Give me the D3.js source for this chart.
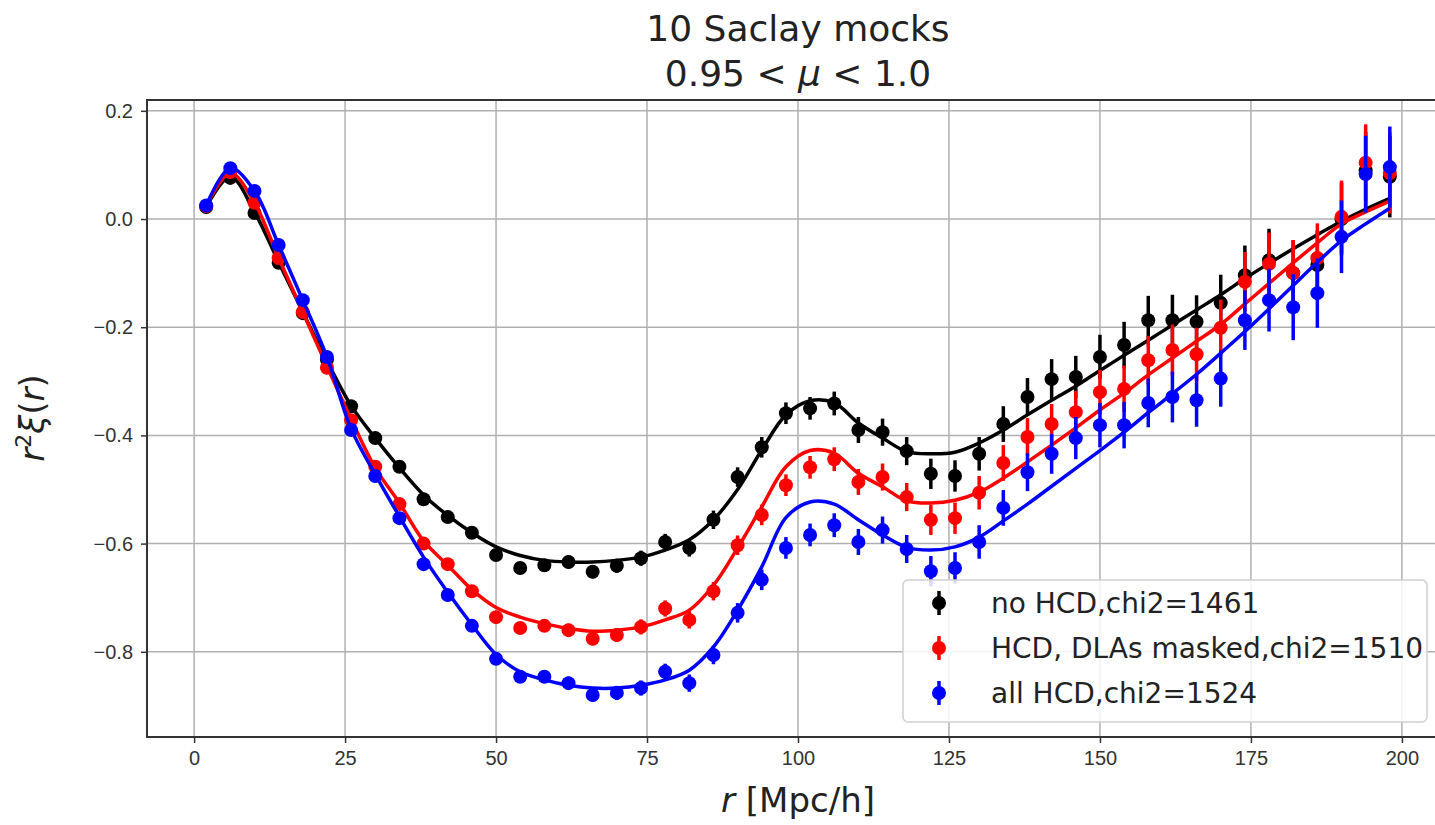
<!DOCTYPE html>
<html lang="en">
<head>
<meta charset="UTF-8">
<title>10 Saclay mocks</title>
<style>
  body { margin: 0; background: #fff; }
  svg { font-family: "DejaVu Sans", sans-serif; display: block; }
  .grid line { stroke: #b0b0b0; stroke-width: 1.5; }
  .axis text { font-size: 20px; fill: #333; }
  .axis line { stroke: #333; stroke-width: 1.5; }
  .axis path { display: none; }
</style>
</head>
<body>
<script src="https://d3js.org/d3.v7.min.js"></script>
<script>
// separations r [Mpc/h]
const rVals = [2,6,10,14,18,22,26,30,34,38,42,46,50,54,58,62,66,70,74,78,82,86,90,94,98,102,106,110,114,118,122,126,130,134,138,142,146,150,154,158,162,166,170,174,178,182,186,190,194,198];

// measured r^2 xi(r)
const noHcd = [0.022,0.076,0.011,-0.081,-0.174,-0.260,-0.346,-0.405,-0.458,-0.518,-0.551,-0.580,-0.621,-0.645,-0.640,-0.634,-0.652,-0.641,-0.627,-0.597,-0.608,-0.556,-0.477,-0.422,-0.359,-0.350,-0.341,-0.390,-0.394,-0.429,-0.471,-0.475,-0.434,-0.379,-0.329,-0.296,-0.292,-0.255,-0.233,-0.187,-0.187,-0.190,-0.155,-0.104,-0.076,-0.100,-0.085,0.000,0.090,0.078];
const dlaMasked = [0.024,0.087,0.030,-0.072,-0.172,-0.275,-0.372,-0.458,-0.527,-0.600,-0.638,-0.688,-0.736,-0.756,-0.752,-0.760,-0.776,-0.769,-0.754,-0.720,-0.741,-0.688,-0.603,-0.547,-0.492,-0.459,-0.444,-0.486,-0.477,-0.514,-0.556,-0.553,-0.506,-0.451,-0.403,-0.379,-0.357,-0.320,-0.314,-0.261,-0.242,-0.250,-0.201,-0.116,-0.083,-0.100,-0.072,0.004,0.104,0.085];
const allHcd = [0.025,0.094,0.052,-0.048,-0.150,-0.255,-0.390,-0.475,-0.553,-0.638,-0.695,-0.752,-0.813,-0.846,-0.846,-0.858,-0.880,-0.876,-0.867,-0.837,-0.858,-0.806,-0.728,-0.667,-0.608,-0.584,-0.566,-0.597,-0.575,-0.610,-0.651,-0.645,-0.597,-0.534,-0.468,-0.434,-0.405,-0.381,-0.381,-0.340,-0.329,-0.335,-0.295,-0.187,-0.150,-0.163,-0.137,-0.033,0.083,0.096];

// error bars (same size for all three)
const errBars = [0.004,0.004,0.004,0.005,0.005,0.006,0.007,0.008,0.008,0.009,0.009,0.010,0.010,0.011,0.011,0.012,0.012,0.013,0.014,0.015,0.016,0.017,0.018,0.019,0.020,0.021,0.022,0.024,0.025,0.026,0.028,0.029,0.031,0.033,0.035,0.037,0.039,0.041,0.043,0.045,0.047,0.049,0.052,0.055,0.058,0.061,0.064,0.067,0.071,0.075];

// best-fit models
const modelNoHcd = [0.022,0.078,0.013,-0.080,-0.172,-0.262,-0.345,-0.405,-0.460,-0.510,-0.548,-0.580,-0.606,-0.622,-0.631,-0.634,-0.634,-0.631,-0.625,-0.612,-0.593,-0.556,-0.500,-0.427,-0.362,-0.336,-0.340,-0.377,-0.405,-0.430,-0.434,-0.431,-0.414,-0.390,-0.362,-0.335,-0.309,-0.280,-0.252,-0.224,-0.196,-0.168,-0.140,-0.110,-0.082,-0.055,-0.029,-0.004,0.018,0.038];
const modelDla = [0.024,0.085,0.030,-0.072,-0.172,-0.272,-0.370,-0.460,-0.525,-0.595,-0.640,-0.685,-0.718,-0.736,-0.748,-0.757,-0.762,-0.760,-0.754,-0.741,-0.723,-0.677,-0.608,-0.532,-0.458,-0.428,-0.433,-0.470,-0.495,-0.521,-0.525,-0.520,-0.505,-0.479,-0.449,-0.418,-0.386,-0.353,-0.322,-0.288,-0.257,-0.226,-0.195,-0.157,-0.119,-0.081,-0.044,-0.009,0.013,0.033];
const modelAll = [0.025,0.094,0.052,-0.048,-0.150,-0.255,-0.388,-0.472,-0.550,-0.625,-0.690,-0.750,-0.805,-0.837,-0.852,-0.862,-0.867,-0.867,-0.862,-0.852,-0.834,-0.791,-0.723,-0.643,-0.552,-0.523,-0.527,-0.556,-0.584,-0.607,-0.612,-0.606,-0.588,-0.558,-0.527,-0.494,-0.461,-0.428,-0.394,-0.358,-0.323,-0.287,-0.248,-0.208,-0.166,-0.123,-0.080,-0.040,-0.009,0.020];

const legendLabels = ["no HCD,chi2=1461", "HCD, DLAs masked,chi2=1510", "all HCD,chi2=1524"];
const seriesColors = ["#000000", "#ff0000", "#0000ff"];
const xTicks = [0, 25, 50, 75, 100, 125, 150, 175, 200];
const yTicks = [-0.8, -0.6, -0.4, -0.2, 0.0, 0.2];

const series = [
  { pts: noHcd, model: modelNoHcd },
  { pts: dlaMasked, model: modelDla },
  { pts: allHcd, model: modelAll }
];

const W = 1435, H = 825;
const plot = { left: 147, top: 100, right: 1449, bottom: 737 };

const svg = d3.select("body").append("svg")
  .attr("width", W)
  .attr("height", H);

svg.append("rect").attr("width", W).attr("height", H).attr("fill", "#fff");

const x = d3.scaleLinear().domain([-7.8, 207.8]).range([plot.left, plot.right]);
const y = d3.scaleLinear().domain([-0.9575, 0.22]).range([plot.bottom, plot.top]);

// grid
const grid = svg.append("g").attr("class", "grid");
grid.selectAll(".gx").data(xTicks).enter().append("line")
  .attr("x1", d => x(d)).attr("x2", d => x(d))
  .attr("y1", plot.top).attr("y2", plot.bottom);
grid.selectAll(".gy").data(yTicks).enter().append("line")
  .attr("x1", plot.left).attr("x2", plot.right)
  .attr("y1", d => y(d)).attr("y2", d => y(d));

// axes
svg.append("g").attr("class", "axis")
  .attr("transform", `translate(0,${plot.bottom})`)
  .call(d3.axisBottom(x).tickValues(xTicks).tickSize(6).tickPadding(8).tickFormat(d3.format("d")));

svg.append("g").attr("class", "axis")
  .attr("transform", `translate(${plot.left},0)`)
  .call(d3.axisLeft(y).tickValues(yTicks).tickSize(6).tickPadding(8).tickFormat(d3.format(".1f")));

// data
const line = d3.line().curve(d3.curveCatmullRom.alpha(0.5))
  .x((d, i) => x(rVals[i])).y(d => y(d));

series.forEach((s, k) => {
  const g = svg.append("g");
  const col = seriesColors[k];
  g.selectAll("line").data(s.pts).enter().append("line")
    .attr("x1", (d, i) => x(rVals[i])).attr("x2", (d, i) => x(rVals[i]))
    .attr("y1", (d, i) => y(d - errBars[i])).attr("y2", (d, i) => y(d + errBars[i]))
    .attr("stroke", col).attr("stroke-width", 3.5);
  g.selectAll("circle").data(s.pts).enter().append("circle")
    .attr("cx", (d, i) => x(rVals[i])).attr("cy", d => y(d))
    .attr("r", 7).attr("fill", col);
  g.append("path").datum(s.model)
    .attr("d", line).attr("fill", "none")
    .attr("stroke", col).attr("stroke-width", 3.5);
});

// frame
svg.append("rect")
  .attr("x", plot.left).attr("y", plot.top)
  .attr("width", plot.right - plot.left).attr("height", plot.bottom - plot.top)
  .attr("fill", "none").attr("stroke", "#333").attr("stroke-width", 2);

// legend
const leg = svg.append("g").attr("transform", "translate(903,580)");
leg.append("rect").attr("width", 524).attr("height", 142).attr("rx", 5)
  .attr("fill", "#fff").attr("fill-opacity", 0.85)
  .attr("stroke", "#d0d0d0").attr("stroke-width", 1.5);
legendLabels.forEach((lab, k) => {
  const cy = 23 + k * 45;
  leg.append("line").attr("x1", 36).attr("x2", 36).attr("y1", cy - 12).attr("y2", cy + 12)
    .attr("stroke", seriesColors[k]).attr("stroke-width", 3.5);
  leg.append("circle").attr("cx", 36).attr("cy", cy).attr("r", 7).attr("fill", seriesColors[k]);
  leg.append("text").attr("x", 88).attr("y", cy).attr("dy", "0.36em")
    .attr("font-size", 28).attr("fill", "#222").text(lab);
});

// titles
const title = svg.append("text").attr("text-anchor", "middle").attr("fill", "#222").attr("font-size", 36);
title.append("tspan").attr("x", 798).attr("y", 41).text("10 Saclay mocks");
const t2 = title.append("tspan").attr("x", 798).attr("y", 86);
t2.append("tspan").text("0.95 < ");
t2.append("tspan").attr("font-style", "italic").text("μ");
t2.append("tspan").text(" < 1.0");

// x label
const xl = svg.append("text").attr("x", 798).attr("y", 812).attr("text-anchor", "middle")
  .attr("font-size", 34).attr("fill", "#222");
xl.append("tspan").attr("font-style", "italic").text("r");
xl.append("tspan").text(" [Mpc/h]");

// y label
const yl = svg.append("text").attr("transform", "translate(44,418) rotate(-90)")
  .attr("text-anchor", "middle").attr("font-size", 34).attr("fill", "#222");
yl.append("tspan").attr("font-style", "italic").text("r");
yl.append("tspan").attr("font-size", 22).attr("dy", -13).text("2");
yl.append("tspan").attr("font-style", "italic").attr("dy", 13).text("ξ");
yl.append("tspan").text("(");
yl.append("tspan").attr("font-style", "italic").text("r");
yl.append("tspan").text(")");
</script>
</body>
</html>
